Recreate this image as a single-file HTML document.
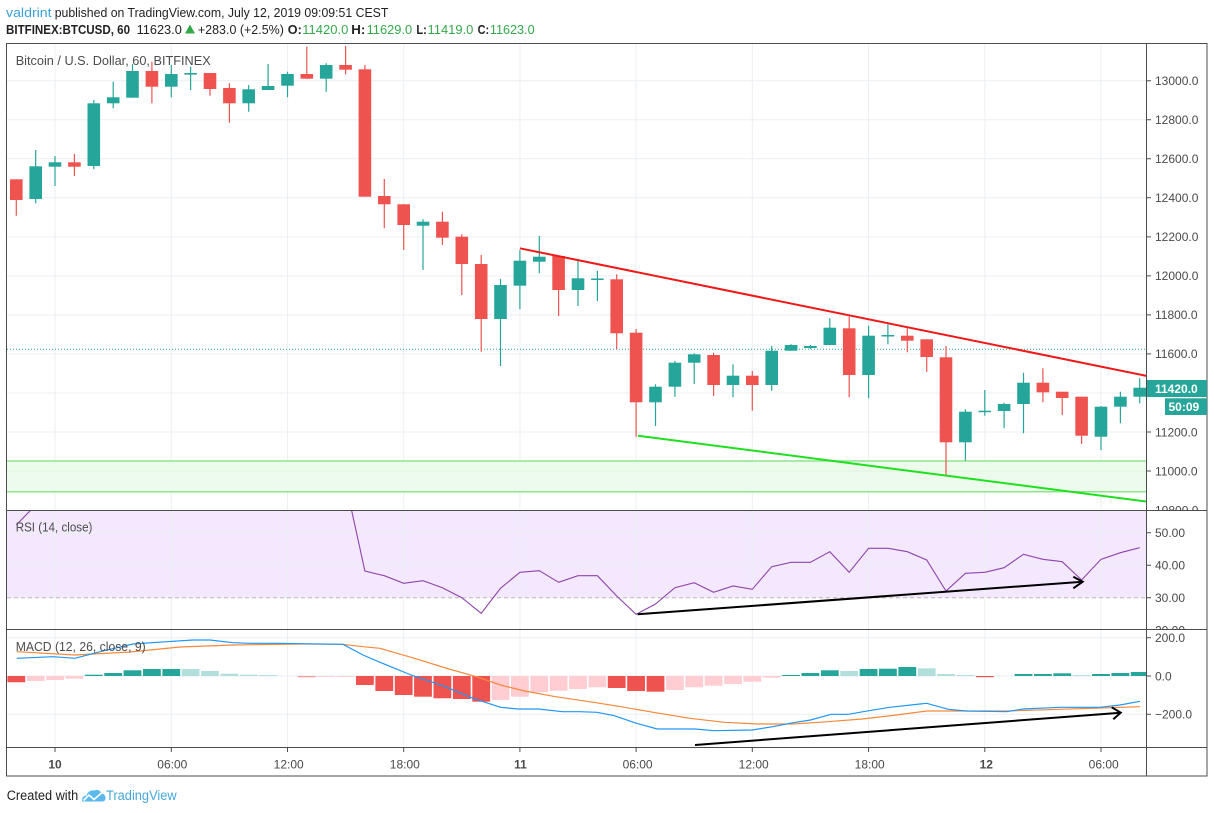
<!DOCTYPE html>
<html><head><meta charset="utf-8"><style>
html,body{margin:0;padding:0;background:#fff;}
svg{display:block;font-family:"Liberation Sans",Arial,sans-serif;}
</style></head><body>
<svg width="1214" height="813" viewBox="0 0 1214 813" xmlns="http://www.w3.org/2000/svg">
<defs>
<clipPath id="cm"><rect x="7" y="44" width="1139.5" height="466.5"/></clipPath>
<clipPath id="cr"><rect x="7" y="511" width="1139.5" height="118.5"/></clipPath>
<clipPath id="cd"><rect x="7" y="630" width="1139.5" height="117.5"/></clipPath>
<clipPath id="am"><rect x="1147" y="44" width="60" height="466.5"/></clipPath>
<clipPath id="ar"><rect x="1147" y="511" width="60" height="118.5"/></clipPath>
<clipPath id="ad"><rect x="1147" y="630" width="60" height="117.5"/></clipPath>
</defs>
<rect width="1214" height="813" fill="#fff"/>

<!-- Header -->
<text x="6" y="17" font-size="13" fill="#3ba0d8" textLength="45.6" lengthAdjust="spacingAndGlyphs">valdrint</text>
<text x="54.7" y="17" font-size="13" fill="#222" textLength="333.7" lengthAdjust="spacingAndGlyphs">published on TradingView.com, July 12, 2019 09:09:51 CEST</text>
<g font-size="13" fill="#222">
<text x="6" y="34" font-weight="bold" textLength="124" lengthAdjust="spacingAndGlyphs">BITFINEX:BTCUSD, 60</text>
<text x="136.6" y="34" textLength="45.2" lengthAdjust="spacingAndGlyphs">11623.0</text>
<path d="M185 33.5 L190 24.5 L195 33.5 Z" fill="#36a84c"/>
<text x="197.9" y="34" textLength="86" lengthAdjust="spacingAndGlyphs">+283.0 (+2.5%)</text>
<text x="287.8" y="34" font-weight="bold" textLength="14" lengthAdjust="spacingAndGlyphs">O:</text>
<text x="302.3" y="34" fill="#36a84c" textLength="46" lengthAdjust="spacingAndGlyphs">11420.0</text>
<text x="351.3" y="34" font-weight="bold" textLength="14" lengthAdjust="spacingAndGlyphs">H:</text>
<text x="366.6" y="34" fill="#36a84c" textLength="45.6" lengthAdjust="spacingAndGlyphs">11629.0</text>
<text x="416.4" y="34" font-weight="bold" textLength="10.5" lengthAdjust="spacingAndGlyphs">L:</text>
<text x="427.5" y="34" fill="#36a84c" textLength="45.9" lengthAdjust="spacingAndGlyphs">11419.0</text>
<text x="477.6" y="34" font-weight="bold" textLength="11.5" lengthAdjust="spacingAndGlyphs">C:</text>
<text x="489.9" y="34" fill="#36a84c" textLength="44.7" lengthAdjust="spacingAndGlyphs">11623.0</text>
</g>

<!-- RSI band -->
<rect x="7" y="511" width="1139.5" height="86.7" fill="#f4e8fe"/>

<!-- Grid -->
<g stroke="#eceff3" stroke-width="1">
<path d="M55 44V748M171.3 44V748M287.5 44V748M403.7 44V748M519.9 44V748M636.1 44V748M752.3 44V748M868.6 44V748M984.8 44V748M1101 44V748"/>
<path d="M7 80.7H1146M7 119.7H1146M7 158.8H1146M7 197.8H1146M7 236.9H1146M7 275.9H1146M7 314.9H1146M7 353.9H1146M7 393H1146M7 432H1146M7 471H1146"/>
<path d="M7 532.7H1146M7 565.2H1146M7 637.7H1146M7 676H1146M7 714.3H1146"/>
</g>
<line x1="7" y1="597.7" x2="1146" y2="597.7" stroke="#b8b8b8" stroke-width="1" stroke-dasharray="4,3"/>

<!-- Main panel -->
<g clip-path="url(#cm)">
<rect x="7" y="461" width="1139.5" height="30.7" fill="#ecfbec"/>
<line x1="7" y1="471" x2="1146" y2="471" stroke="#dff3df"/>
<line x1="7" y1="461" x2="1146.5" y2="461" stroke="#8ee48e" stroke-width="1.5"/>
<line x1="7" y1="491.7" x2="1146.5" y2="491.7" stroke="#8ee48e" stroke-width="1.5"/>
<line x1="7" y1="349.2" x2="1146.5" y2="349.2" stroke="#26a69a" stroke-width="1" stroke-dasharray="1,2"/>

<!-- wicks -->
<path stroke="#26a69a" stroke-width="1.2" fill="none" d="M35.7 150V203.3M55 156V186M93.8 100V169.3M113.2 81.7V108.3M132.5 64V97.7M171.3 65V97.3M190.6 66.7V90M248.7 85V111.7M268.1 64V90M287.5 71.7V97.3M326.2 63.3V91.7M423 219.3V270M500.5 279V366M519.9 250V309.3M539.3 236V273.3M578 260V306M597.4 270.7V301M655.5 384.3V426M674.9 361V396.7M694.2 353.3V384M733 364.3V397.3M771.7 346V390.7M791.1 344.3V350.7M810.4 345V349M829.8 318.3V345M868.6 325.7V398.3M887.9 324.3V344.3M965.4 409.3V460.7M984.8 390V415.7M1004.1 402.7V428.3M1023.5 372.7V433.3M1101 406V450M1120.4 391.7V423.3M1139.7 378.3V403.3"/>
<path stroke="#ef5350" stroke-width="1.2" fill="none" d="M16.3 179.3V215.7M74.4 154V176M151.9 61.7V103.3M210 73V95.7M229.4 83.3V122.7M306.8 46.7V78.7M345.6 46V74.3M364.9 65V196.7M384.3 179V228.3M403.7 204.3V250M442.4 211.7V245M461.8 234.3V295M481.2 255V351.7M558.6 256V316M616.7 274.3V349.3M636.1 329V436.7M713.6 352.7V396M752.3 371V410.7M849.2 316.7V397.3M907.3 328.3V352.3M926.7 339.3V372M946 346V475.5M1042.9 368.3V402.3M1062.2 391.7V415M1081.6 396.7V444"/>
<!-- green bodies -->
<g fill="#26a69a">
<rect x="29.4" y="166.3" width="12.6" height="32.7"/>
<rect x="48.7" y="162.3" width="12.6" height="4.4"/>
<rect x="87.5" y="103.3" width="12.6" height="62.7"/>
<rect x="106.9" y="97.3" width="12.6" height="6"/>
<rect x="126.2" y="71" width="12.6" height="26.7"/>
<rect x="165" y="74" width="12.6" height="12.7"/>
<rect x="184.3" y="73" width="12.6" height="1.6"/>
<rect x="242.4" y="89.3" width="12.6" height="14"/>
<rect x="261.8" y="86" width="12.6" height="4"/>
<rect x="281.2" y="74" width="12.6" height="11.7"/>
<rect x="319.9" y="65" width="12.6" height="13.7"/>
<rect x="416.7" y="221.7" width="12.6" height="4"/>
<rect x="494.2" y="285" width="12.6" height="34"/>
<rect x="513.6" y="260.7" width="12.6" height="25"/>
<rect x="533" y="256.7" width="12.6" height="5"/>
<rect x="571.7" y="278.3" width="12.6" height="11.7"/>
<rect x="591.1" y="278.5" width="12.6" height="1.5"/>
<rect x="649.2" y="386.7" width="12.6" height="15.6"/>
<rect x="668.6" y="362.7" width="12.6" height="24"/>
<rect x="687.9" y="354.3" width="12.6" height="8.4"/>
<rect x="726.7" y="375.7" width="12.6" height="9.3"/>
<rect x="765.4" y="350.7" width="12.6" height="34.3"/>
<rect x="784.8" y="345" width="12.6" height="5.7"/>
<rect x="804.1" y="346" width="12.6" height="2"/>
<rect x="823.5" y="327.7" width="12.6" height="17.3"/>
<rect x="862.3" y="335.7" width="12.6" height="39.3"/>
<rect x="881.6" y="335" width="12.6" height="1.5"/>
<rect x="959.1" y="411.7" width="12.6" height="30.6"/>
<rect x="978.5" y="410.7" width="12.6" height="1.5"/>
<rect x="997.8" y="404" width="12.6" height="7"/>
<rect x="1017.2" y="382.7" width="12.6" height="21.3"/>
<rect x="1094.7" y="406.7" width="12.6" height="30"/>
<rect x="1114.1" y="396.7" width="12.6" height="10"/>
<rect x="1133.4" y="387.7" width="12.6" height="9"/>
</g>
<!-- red bodies -->
<g fill="#ef5350">
<rect x="10" y="179.3" width="12.6" height="20.7"/>
<rect x="68.1" y="162.3" width="12.6" height="4.4"/>
<rect x="145.6" y="71" width="12.6" height="15.7"/>
<rect x="203.7" y="73" width="12.6" height="16"/>
<rect x="223.1" y="88" width="12.6" height="15.3"/>
<rect x="300.5" y="74" width="12.6" height="4.7"/>
<rect x="339.3" y="65" width="12.6" height="4.7"/>
<rect x="358.6" y="69.3" width="12.6" height="127.4"/>
<rect x="378" y="196" width="12.6" height="8.3"/>
<rect x="397.4" y="204.3" width="12.6" height="20.7"/>
<rect x="436.1" y="221.7" width="12.6" height="16"/>
<rect x="455.5" y="236.7" width="12.6" height="27.3"/>
<rect x="474.9" y="264" width="12.6" height="55"/>
<rect x="552.3" y="256" width="12.6" height="34"/>
<rect x="610.4" y="279.3" width="12.6" height="54"/>
<rect x="629.8" y="332.7" width="12.6" height="69.6"/>
<rect x="707.3" y="355" width="12.6" height="30"/>
<rect x="746" y="375.7" width="12.6" height="9.3"/>
<rect x="842.9" y="328.3" width="12.6" height="46.7"/>
<rect x="901" y="335.7" width="12.6" height="5"/>
<rect x="920.4" y="339.3" width="12.6" height="17.7"/>
<rect x="939.7" y="357.3" width="12.6" height="85"/>
<rect x="1036.6" y="382.7" width="12.6" height="9.6"/>
<rect x="1055.9" y="391.7" width="12.6" height="6.3"/>
<rect x="1075.3" y="396.7" width="12.6" height="39"/>
</g>
<!-- trendlines -->
<line x1="519.9" y1="248.3" x2="1147" y2="376" stroke="#f01818" stroke-width="2"/>
<line x1="638" y1="435.7" x2="1147" y2="501.6" stroke="#1ee01e" stroke-width="2"/>
<text x="15.7" y="65" font-size="13" fill="#4c4c4c" textLength="195" lengthAdjust="spacingAndGlyphs">Bitcoin / U.S. Dollar, 60, BITFINEX</text>
</g>

<!-- RSI panel -->
<g clip-path="url(#cr)">
<polyline fill="none" stroke="#8e44ad" stroke-width="1.1" points="16.3,525 35.7,505 55,495 345.6,483 364.9,571 384.3,575.7 403.7,583.3 423,580.7 442.4,587.7 461.8,597.7 481.2,613.3 500.5,588.3 519.9,572.3 539.3,570.7 558.6,582.3 578,575.7 597.4,575.7 616.7,596 636.1,614.3 655.5,604 674.9,587.7 694.2,582.7 713.6,592.3 733,586 752.3,589.3 771.7,566.7 791.1,562.3 810.4,562.3 829.8,551.7 849.2,572.3 868.6,548.3 887.9,548.3 907.3,551.7 926.7,560 946,591 965.4,573.3 984.8,572.3 1004.1,567.7 1023.5,554.3 1042.9,559.3 1062.2,561.7 1081.6,580 1101,559.3 1120.4,552.7 1139.7,547.7"/>
<line x1="637.6" y1="614.3" x2="1082.7" y2="581.7" stroke="#000" stroke-width="2"/>
<polyline points="1073.3,576.7 1082.7,581.7 1073.3,588.3" fill="none" stroke="#000" stroke-width="2"/>
<text x="15.7" y="531.5" font-size="13" fill="#4c4c4c" textLength="76.7" lengthAdjust="spacingAndGlyphs">RSI (14, close)</text>
</g>

<!-- MACD panel -->
<g clip-path="url(#cd)">
<g fill="#ef5350">
<rect x="7.4" y="676" width="17.8" height="6.3"/>
<rect x="356" y="676" width="17.8" height="9"/>
<rect x="375.4" y="676" width="17.8" height="15"/>
<rect x="394.8" y="676" width="17.8" height="19"/>
<rect x="414.1" y="676" width="17.8" height="20.7"/>
<rect x="433.5" y="676" width="17.8" height="22.3"/>
<rect x="452.9" y="676" width="17.8" height="23"/>
<rect x="472.3" y="676" width="17.8" height="25.7"/>
<rect x="607.8" y="676" width="17.8" height="12"/>
<rect x="627.2" y="676" width="17.8" height="15"/>
<rect x="646.6" y="676" width="17.8" height="15.7"/>
<rect x="975.9" y="676" width="17.8" height="1.2"/>
</g>
<g fill="#ffcdd2">
<rect x="26.8" y="676" width="17.8" height="5"/>
<rect x="46.1" y="676" width="17.8" height="4"/>
<rect x="65.5" y="676" width="17.8" height="2.7"/>
<rect x="297.9" y="676" width="17.8" height="1.3" fill="#f19a9a"/>
<rect x="317.3" y="676" width="17.8" height="1"/>
<rect x="336.7" y="676" width="17.8" height="1"/>
<rect x="491.6" y="676" width="17.8" height="24"/>
<rect x="511" y="676" width="17.8" height="20.7"/>
<rect x="530.4" y="676" width="17.8" height="16.3"/>
<rect x="549.7" y="676" width="17.8" height="14.7"/>
<rect x="569.1" y="676" width="17.8" height="13"/>
<rect x="588.5" y="676" width="17.8" height="11.3"/>
<rect x="666" y="676" width="17.8" height="14"/>
<rect x="685.3" y="676" width="17.8" height="11.3"/>
<rect x="704.7" y="676" width="17.8" height="9.7"/>
<rect x="724.1" y="676" width="17.8" height="8"/>
<rect x="743.4" y="676" width="17.8" height="5.7"/>
<rect x="762.8" y="676" width="17.8" height="1.7"/>
</g>
<g fill="#26a69a">
<rect x="84.9" y="674.7" width="17.8" height="1.3"/>
<rect x="104.3" y="673" width="17.8" height="3"/>
<rect x="123.6" y="670.3" width="17.8" height="5.7"/>
<rect x="143" y="669" width="17.8" height="7"/>
<rect x="162.4" y="669" width="17.8" height="7"/>
<rect x="782.2" y="675" width="17.8" height="1"/>
<rect x="801.5" y="673" width="17.8" height="3"/>
<rect x="820.9" y="670.3" width="17.8" height="5.7"/>
<rect x="859.7" y="669" width="17.8" height="7"/>
<rect x="879" y="668.7" width="17.8" height="7.3"/>
<rect x="898.4" y="667" width="17.8" height="9"/>
<rect x="1014.6" y="674" width="17.8" height="2"/>
<rect x="1034" y="674" width="17.8" height="2"/>
<rect x="1053.3" y="673.3" width="17.8" height="2.7"/>
<rect x="1092.1" y="674" width="17.8" height="2"/>
<rect x="1111.5" y="673" width="17.8" height="3"/>
<rect x="1130.8" y="672" width="17.8" height="4"/>
</g>
<g fill="#b2dfdb">
<rect x="181.7" y="669" width="17.8" height="7"/>
<rect x="201.1" y="671" width="17.8" height="5"/>
<rect x="220.5" y="673.7" width="17.8" height="2.3"/>
<rect x="239.8" y="674.7" width="17.8" height="1.3"/>
<rect x="259.2" y="675" width="17.8" height="1"/>
<rect x="840.3" y="671" width="17.8" height="5"/>
<rect x="917.8" y="668.3" width="17.8" height="7.7"/>
<rect x="937.1" y="674" width="17.8" height="2"/>
<rect x="956.5" y="675" width="17.8" height="1"/>
<rect x="1072.7" y="675" width="17.8" height="1"/>
</g>
<polyline fill="none" stroke="#f7893b" stroke-width="1.2" points="16.7,651.7 75,655 130,652 180,647 233,645 300,644 343,644.3 363,646.7 380,648.3 414.4,658.3 448.9,669 476.4,676.7 500.5,685 524.7,691 555.6,696.7 593.5,702.3 621.1,706.7 655.5,712.7 690,718.3 724.4,722.3 758.8,724 793.3,724 827.7,721.7 862.2,719 896.6,715 926.7,711 966.7,711 1006.7,711 1060,709.3 1100,708 1140,706.7"/>
<polyline fill="none" stroke="#2196f3" stroke-width="1.2" points="16.7,658.3 53,656.7 75,658.3 100,651.7 133,644 166.7,641.7 193,640 210,640 233,642.7 250,643.3 277,643.3 343,644.3 363,655 380,662.3 411,675 445.4,686.7 473,698.3 500.5,707.3 517.8,709 538.4,709 562.5,711.7 579.7,711.7 597,712.3 614.2,715.7 636.6,723.3 657.2,729 676.2,729 695.1,729 714.1,730.7 752,730 772.7,726.7 793.3,722.7 810.5,720 831.1,714.3 848.4,714.3 869,710.7 889.7,707.3 920,704 926.7,703.3 948.3,709.3 966.7,711 1006.7,711.7 1023.3,709 1060,707.3 1100,707.3 1120,705 1140,701.3"/>
<line x1="695" y1="745" x2="1120.7" y2="712.7" stroke="#000" stroke-width="2"/>
<polyline points="1111.7,707.3 1120.7,712.7 1113.3,719.3" fill="none" stroke="#000" stroke-width="2"/>
<text x="15.7" y="651" font-size="13" fill="#4c4c4c" textLength="130" lengthAdjust="spacingAndGlyphs">MACD (12, 26, close, 9)</text>
</g>

<!-- Borders -->
<g stroke="#4d4d4d" stroke-width="1" fill="none">
<rect x="6.5" y="43.5" width="1200.5" height="732.5"/>
<line x1="6.5" y1="510.5" x2="1207" y2="510.5"/>
<line x1="6.5" y1="629.5" x2="1207" y2="629.5"/>
<line x1="6.5" y1="747.5" x2="1207" y2="747.5"/>
<line x1="1146.5" y1="43.5" x2="1146.5" y2="776"/>
</g>

<!-- Price axis -->
<g stroke="#4d4d4d" stroke-width="1">
<path d="M1147 80.7H1151M1147 119.7H1151M1147 158.8H1151M1147 197.8H1151M1147 236.9H1151M1147 275.9H1151M1147 314.9H1151M1147 353.9H1151M1147 432H1151M1147 471H1151M1147 532.7H1151M1147 565.2H1151M1147 597.7H1151M1147 637.7H1151M1147 676H1151M1147 714.3H1151"/>
<path d="M55 748V752M171.3 748V752M287.5 748V752M403.7 748V752M519.9 748V752M636.1 748V752M752.3 748V752M868.6 748V752M984.8 748V752M1101 748V752"/>
</g>
<g font-size="12" fill="#4a4a4a" clip-path="url(#am)">
<text x="1155" y="85">13000.0</text>
<text x="1155" y="124">12800.0</text>
<text x="1155" y="163.1">12600.0</text>
<text x="1155" y="202.1">12400.0</text>
<text x="1155" y="241.2">12200.0</text>
<text x="1155" y="280.2">12000.0</text>
<text x="1155" y="319.2">11800.0</text>
<text x="1155" y="358.2">11600.0</text>
<text x="1155" y="436.3">11200.0</text>
<text x="1155" y="475.3">11000.0</text>
<text x="1155" y="514.4">10800.0</text>
</g>
<g font-size="12" fill="#4a4a4a" clip-path="url(#ar)">
<text x="1155" y="537">50.00</text>
<text x="1155" y="569.5">40.00</text>
<text x="1155" y="602">30.00</text>
<text x="1155" y="634.5">20.00</text>
</g>
<g font-size="12" fill="#4a4a4a" clip-path="url(#ad)">
<text x="1155" y="642">200.0</text>
<text x="1155" y="680.3">0.0</text>
<text x="1155" y="718.6">−200.0</text>
</g>
<!-- Last price labels -->
<rect x="1147" y="380" width="60" height="17" fill="#26a69a"/>
<text x="1155" y="393" font-size="12" font-weight="bold" fill="#fff">11420.0</text>
<rect x="1165" y="398.3" width="42" height="16.7" fill="#26a69a"/>
<text x="1168.5" y="411" font-size="12" font-weight="bold" fill="#fff">50:09</text>

<!-- Time axis -->
<g font-size="12" fill="#4a4a4a" text-anchor="middle">
<text x="55" y="768.5" font-weight="bold">10</text>
<text x="172.3" y="768.5">06:00</text>
<text x="288.7" y="768.5">12:00</text>
<text x="404.8" y="768.5">18:00</text>
<text x="520.5" y="768.5" font-weight="bold">11</text>
<text x="637.6" y="768.5">06:00</text>
<text x="753.7" y="768.5">12:00</text>
<text x="869.7" y="768.5">18:00</text>
<text x="986.3" y="768.5" font-weight="bold">12</text>
<text x="1103.7" y="768.5">06:00</text>
</g>

<!-- Footer -->
<text x="6.7" y="800" font-size="13.5" fill="#222" textLength="71.6" lengthAdjust="spacingAndGlyphs">Created with</text>
<path d="M82 801.5 Q81.5 796 86.5 795.5 Q88.5 789.5 94.5 790.5 Q99 788.5 101.5 793.5 Q106 794 105.5 799 Q105 801.5 102 801.5 Z" fill="#5ab8ea"/>
<polyline points="83.5,800.5 89,795 94,799.5 101.5,793" fill="none" stroke="#fff" stroke-width="1.6"/>
<text x="106" y="800" font-size="13.5" fill="#45a8dc" textLength="70.7" lengthAdjust="spacingAndGlyphs">TradingView</text>
</svg>
</body></html>
